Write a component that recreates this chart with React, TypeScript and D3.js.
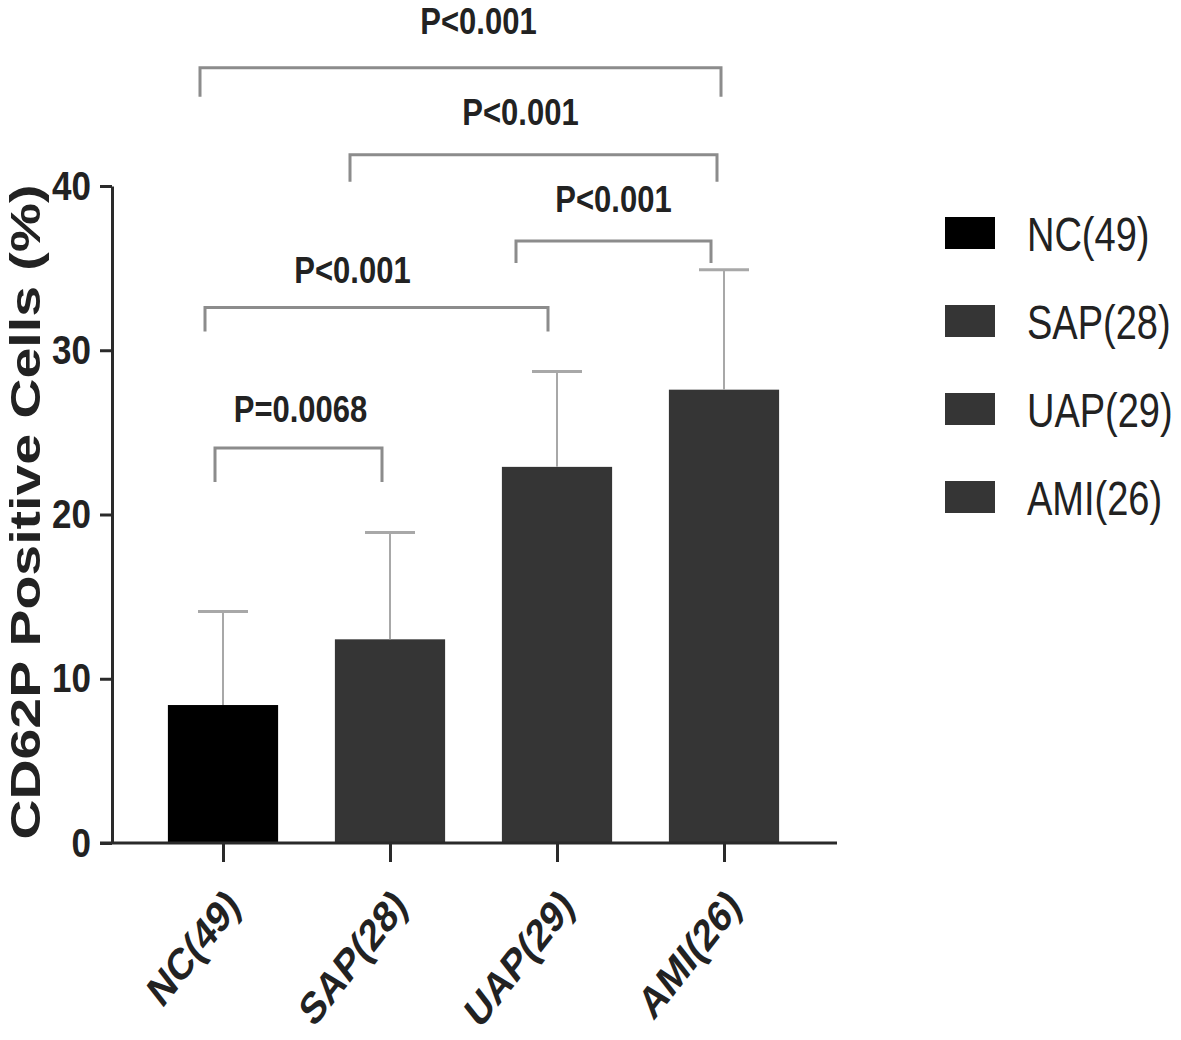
import React, { useRef, useEffect } from "react";
import * as d3 from "d3";

// groups and values
const groups = ["NC(49)", "SAP(28)", "UAP(29)", "AMI(26)"];
const means = [8.4, 12.4, 22.9, 27.6];
const sds = [5.7, 6.5, 5.8, 7.3];
const yTicks = [0, 10, 20, 30, 40];

// significance brackets: pair, p text, level (in y units)
const pairs = [
  ["NC(49)", "AMI(26)"],
  ["SAP(28)", "AMI(26)"],
  ["UAP(29)", "AMI(26)"],
  ["NC(49)", "UAP(29)"],
  ["NC(49)", "SAP(28)"],
];
const pTexts = ["P<0.001", "P<0.001", "P<0.001", "P<0.001", "P=0.0068"];
const levels = [47.2, 41.9, 36.65, 32.6, 24.05];

// drawing tweaks for the brackets (px): left/right offsets from bar centre, leg length, text shift
const bracketLook = [
  { l: -23, r: -3, leg: 29, tx: 18, gap: 34 },
  { l: -40, r: -7, leg: 27, tx: -13, gap: 30 },
  { l: -41, r: -13, leg: 22, tx: 0, gap: 29 },
  { l: -18, r: -9, leg: 24, tx: -24, gap: 25 },
  { l: -8, r: -8, leg: 34, tx: 2, gap: 26 },
];

const SY = 1.27; // the picture is stretched vertically
const FONT = "Liberation Sans, Arial, Helvetica, sans-serif";

function App() {
  const ref = useRef(null);

  useEffect(() => {
    const svg = d3.select(ref.current);
    svg.selectAll("*").remove();

    const y = d3.scaleLinear().domain([0, 40]).range([843, 186]);
    const x = d3.scalePoint().domain(groups).range([223, 724]);
    const barW = x.step() * 0.66;
    const colors = ["#000000", "#353535", "#353535", "#353535"];

    // bars
    svg.append("g")
      .selectAll("rect")
      .data(groups)
      .join("rect")
      .attr("x", d => x(d) - barW / 2)
      .attr("y", (d, i) => y(means[i]))
      .attr("width", barW)
      .attr("height", (d, i) => y(0) - y(means[i]))
      .attr("fill", (d, i) => colors[i]);

    // error bars (upper only)
    const eb = svg.append("g").attr("stroke", "#a8a8a8");
    groups.forEach((g, i) => {
      eb.append("line")
        .attr("x1", x(g)).attr("x2", x(g))
        .attr("y1", y(means[i])).attr("y2", y(means[i] + sds[i]))
        .attr("stroke-width", 2);
      eb.append("line")
        .attr("x1", x(g) - 25).attr("x2", x(g) + 25)
        .attr("y1", y(means[i] + sds[i])).attr("y2", y(means[i] + sds[i]))
        .attr("stroke-width", 3);
    });

    // y axis
    const yAxis = svg.append("g")
      .attr("transform", "translate(112,0)")
      .call(d3.axisLeft(y).tickValues(yTicks).tickSize(12).tickPadding(9).tickSizeOuter(0));
    yAxis.select(".domain").attr("stroke", "#2a2a2a").attr("stroke-width", 3);
    yAxis.selectAll(".tick line").attr("stroke", "#2a2a2a").attr("stroke-width", 3);
    yAxis.selectAll(".tick text")
      .attr("font-family", FONT)
      .attr("font-size", 35)
      .attr("font-weight", "bold")
      .attr("fill", "#222")
      .attr("transform", "scale(1,1.18)");

    // x axis
    const xAxis = svg.append("g")
      .attr("transform", "translate(0,843)")
      .call(d3.axisBottom(x).tickSize(19).tickSizeOuter(0).tickFormat(() => ""));
    xAxis.select(".domain").attr("d", "M100,0H837").attr("stroke", "#2a2a2a").attr("stroke-width", 3);
    xAxis.selectAll(".tick line").attr("stroke", "#2a2a2a").attr("stroke-width", 3);

    // rotated group labels
    svg.append("g")
      .selectAll("text")
      .data(groups)
      .join("text")
      .attr("transform", d => `translate(${x(d) + 10},${897}) scale(1,${SY}) rotate(-45)`)
      .attr("text-anchor", "end")
      .attr("dy", "0.35em")
      .attr("font-family", FONT)
      .attr("font-size", 35)
      .attr("font-weight", "bold")
      .attr("fill", "#222")
      .text(d => d);

    // y title
    svg.append("text")
      .attr("transform", `translate(40,512) rotate(-90) scale(1.32,1)`)
      .attr("text-anchor", "middle")
      .attr("font-family", FONT)
      .attr("font-size", 42)
      .attr("font-weight", "bold")
      .attr("fill", "#222")
      .text("CD62P Positive Cells (%)");

    // significance brackets
    const br = svg.append("g");
    pairs.forEach(([a, b], i) => {
      const lk = bracketLook[i];
      const x1 = x(a) + lk.l;
      const x2 = x(b) + lk.r;
      const yy = y(levels[i]);
      br.append("path")
        .attr("d", `M${x1},${yy + lk.leg}V${yy}H${x2}V${yy + lk.leg}`)
        .attr("fill", "none")
        .attr("stroke", "#8c8c8c")
        .attr("stroke-width", 3);
      br.append("text")
        .attr("transform", `translate(${(x1 + x2) / 2 + lk.tx},${yy - lk.gap}) scale(1,1.22)`)
        .attr("text-anchor", "middle")
        .attr("font-family", FONT)
        .attr("font-size", 31)
        .attr("font-weight", "bold")
        .attr("fill", "#222")
        .text(pTexts[i]);
    });

    // legend
    const leg = svg.append("g")
      .selectAll("g")
      .data(groups)
      .join("g")
      .attr("transform", (d, i) => `translate(945,${233 + i * 88})`);
    leg.append("rect")
      .attr("x", 0).attr("y", -16)
      .attr("width", 50).attr("height", 32)
      .attr("fill", (d, i) => colors[i]);
    leg.append("text")
      .attr("transform", `translate(82,0) scale(1,1.28)`)
      .attr("dy", "0.36em")
      .attr("font-family", FONT)
      .attr("font-size", 38)
      .attr("fill", "#222")
      .text(d => d);
  }, []);

  return (
    <svg
      ref={ref}
      width={1181}
      height={1040}
      style={{ position: "absolute", left: 0, top: 0, background: "#fff" }}
    />
  );
}

export default App;
